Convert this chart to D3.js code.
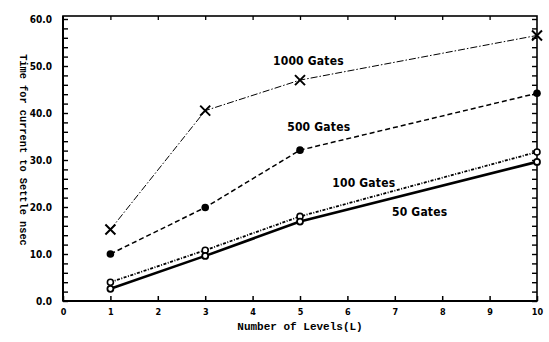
<!DOCTYPE html>
<html><head><meta charset="utf-8">
<script src="https://cdn.jsdelivr.net/npm/d3@7"></script>
<style>
html,body{margin:0;padding:0;background:#fff;}
svg{display:block;}
</style></head>
<body>
<svg id="chart" width="549" height="342"></svg>
<script>
const levels = [1, 3, 5, 10];
const gates1000 = [15.2, 40.5, 47.0, 56.5];
const gates500 = [10.0, 19.9, 32.1, 44.2];
const gates100 = [4.0, 10.8, 18.0, 31.7];
const gates50 = [2.6, 9.6, 16.9, 29.6];
const xTickValues = [0,1,2,3,4,5,6,7,8,9,10];
const yTickLabels = ["0.0","10.0","20.0","30.0","40.0","50.0","60.0"];
const seriesLabels = ["1000 Gates","500 Gates","100 Gates","50 Gates"];
const xTitle = "Number of Levels(L)";
const yTitle = "Time for current to Settle nsec";

const svg = d3.select("#chart");
const L = 63, R = 537, T = 16, B = 301;
const x = d3.scaleLinear().domain([0,10]).range([L,R]);
const y = d3.scaleLinear().domain([0,60]).range([B,19]);

const tickFont = "'DejaVu Sans Condensed','DejaVu Sans',sans-serif";
const monoFont = "'Liberation Mono','DejaVu Sans Mono',monospace";

// frame
svg.append("rect").attr("x",L).attr("y",T).attr("width",R-L).attr("height",B-T)
  .attr("fill","none").attr("stroke","#000").attr("stroke-width",1.6);
svg.append("line").attr("x1",L).attr("x2",R).attr("y1",B).attr("y2",B).attr("stroke","#000").attr("stroke-width",2.2);
svg.append("line").attr("x1",L).attr("x2",L).attr("y1",T).attr("y2",B).attr("stroke","#000").attr("stroke-width",2);

// bottom axis: ticks pointing up
const xAxis = d3.axisBottom(x).tickValues(xTickValues).tickSize(-5).tickPadding(8).tickFormat(d3.format("d"));
const gx = svg.append("g").attr("transform",`translate(0,${B})`).call(xAxis);
gx.select(".domain").remove();
gx.selectAll(".tick line").attr("stroke","#000").attr("stroke-width",1.5);
gx.selectAll(".tick text").attr("font-family",tickFont).attr("font-size",9).attr("font-weight","bold").attr("fill","#000");

// top ticks
const gxt = svg.append("g").attr("transform",`translate(0,${T})`)
  .call(d3.axisTop(x).tickValues(xTickValues.slice(1,-1)).tickSize(-4).tickFormat(""));
gxt.select(".domain").remove();
gxt.selectAll(".tick line").attr("stroke","#000").attr("stroke-width",1.3);

// left axis: ticks inward, every 2 units
const yMinor = d3.range(0,61,2);
const gy = svg.append("g").attr("transform",`translate(${L},0)`)
  .call(d3.axisLeft(y).tickValues(yMinor).tickSize(-5).tickFormat(""));
gy.select(".domain").remove();
gy.selectAll(".tick line").attr("stroke","#000").attr("stroke-width",1.4);

const gyl = svg.append("g").attr("transform",`translate(${L},0)`)
  .call(d3.axisLeft(y).tickValues([0,10,20,30,40,50,60]).tickSize(0).tickPadding(11)
    .tickFormat((d,i)=>yTickLabels[i]));
gyl.select(".domain").remove();
gyl.selectAll(".tick text").attr("font-family",tickFont).attr("font-size",10).attr("font-weight","bold").attr("fill","#000");

// right ticks
const gyr = svg.append("g").attr("transform",`translate(${R},0)`)
  .call(d3.axisRight(y).tickValues(yMinor).tickSize(-5).tickFormat(""));
gyr.select(".domain").remove();
gyr.selectAll(".tick line").attr("stroke","#000").attr("stroke-width",1.4);

// series
const line = d3.line().x(d=>x(d[0])).y(d=>y(d[1]));
function pts(vals){ return levels.map((l,i)=>[l,vals[i]]); }

svg.append("path").datum(pts(gates1000)).attr("d",line).attr("fill","none")
  .attr("stroke","#000").attr("stroke-width",1).attr("stroke-dasharray","7,2,1.5,2");
svg.append("path").datum(pts(gates500)).attr("d",line).attr("fill","none")
  .attr("stroke","#000").attr("stroke-width",1.5).attr("stroke-dasharray","5,3");
svg.append("path").datum(pts(gates100)).attr("d",line).attr("fill","none")
  .attr("stroke","#000").attr("stroke-width",1.8).attr("stroke-dasharray","3,1.5,1,1.5");
svg.append("path").datum(pts(gates50)).attr("d",line).attr("fill","none")
  .attr("stroke","#000").attr("stroke-width",2.6);

// markers
const xs = 5;
svg.append("g").selectAll("path").data(pts(gates1000)).join("path")
  .attr("d",d=>{const cx=x(d[0]),cy=y(d[1]);return `M${cx-xs},${cy-xs}L${cx+xs},${cy+xs}M${cx-xs},${cy+xs}L${cx+xs},${cy-xs}`;})
  .attr("stroke","#000").attr("stroke-width",2);
svg.append("g").selectAll("circle").data(pts(gates500)).join("circle")
  .attr("cx",d=>x(d[0])).attr("cy",d=>y(d[1])).attr("r",3.8).attr("fill","#000");
svg.append("g").selectAll("circle").data(pts(gates100)).join("circle")
  .attr("cx",d=>x(d[0])).attr("cy",d=>y(d[1])).attr("r",3).attr("fill","#fff").attr("stroke","#000").attr("stroke-width",1.6);
svg.append("g").selectAll("circle").data(pts(gates50)).join("circle")
  .attr("cx",d=>x(d[0])).attr("cy",d=>y(d[1])).attr("r",3).attr("fill","#fff").attr("stroke","#000").attr("stroke-width",1.8);

// series labels (placed by data coordinates, left edge + baseline)
const labelPos = [[4.43,50.2],[4.73,36.2],[5.68,24.3],[6.94,18.1]];
svg.append("g").selectAll("text").data(seriesLabels).join("text")
  .attr("x",(d,i)=>x(labelPos[i][0])).attr("y",(d,i)=>y(labelPos[i][1]))
  .attr("text-anchor","start")
  .attr("font-family",tickFont).attr("font-size",12).attr("font-weight","bold")
  .attr("letter-spacing",0.2).attr("fill","#000").text(d=>d);

// axis titles
svg.append("text").attr("x",(L+R)/2).attr("y",330).attr("text-anchor","middle")
  .attr("font-family",monoFont).attr("font-size",11).attr("font-weight","bold").attr("fill","#000").text(xTitle);
svg.append("text").attr("transform","translate(20,150) rotate(90)").attr("text-anchor","middle")
  .attr("font-family",monoFont).attr("font-size",10.3).attr("font-weight","bold").attr("fill","#000").text(yTitle);
</script>
</body></html>
